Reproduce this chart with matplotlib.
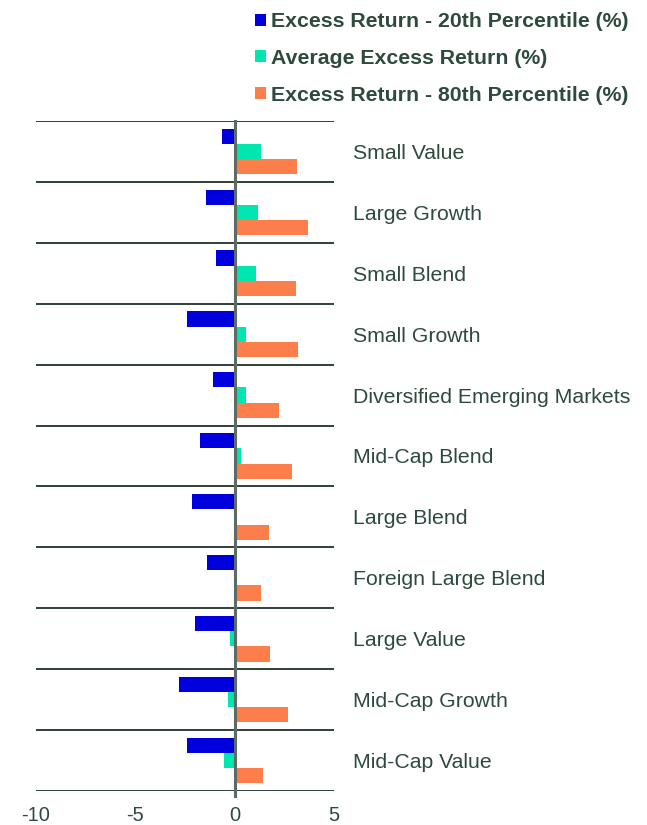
import matplotlib.pyplot as plt
import numpy as np

plt.rcParams['font.family'] = ['Liberation Sans', 'DejaVu Sans']

categories = ["Small Value", "Large Growth", "Small Blend", "Small Growth",
              "Diversified Emerging Markets", "Mid-Cap Blend", "Large Blend",
              "Foreign Large Blend", "Large Value", "Mid-Cap Growth", "Mid-Cap Value"]
pct20 = [-0.65, -1.43, -0.94, -2.38, -1.09, -1.76, -2.15, -1.38, -2.02, -2.79, -2.40]
avg = [1.35, 1.18, 1.09, 0.55, 0.55, 0.30, -0.05, -0.05, -0.22, -0.35, -0.55]
pct80 = [3.15, 3.71, 3.07, 3.21, 2.25, 2.87, 1.71, 1.33, 1.76, 2.69, 1.43]
series_names = ["Excess Return - 20th Percentile (%)",
                "Average Excess Return (%)",
                "Excess Return - 80th Percentile (%)"]
colors = ["#0000dd", "#00e6b0", "#fc7e4a"]
xticks = [-10, -5, 0, 5]

txt = "#2e4a3d"
W, H = 647, 825
fig = plt.figure(figsize=(W / 100, H / 100), dpi=100)
ax = fig.add_axes([36 / W, 1 - 791 / H, 298 / W, 670 / H])

y = np.arange(len(categories))
h = 0.25
bars = []
for k, vals in enumerate([pct20, avg, pct80]):
    b = ax.barh(y + (k - 1) * h, vals, height=h, color=colors[k],
                label=series_names[k], zorder=2)
    bars.append(b)

ax.set_xlim(-10, 5)
ax.set_ylim(len(categories) - 0.5, -0.5)
ax.set_xticks(xticks)
ax.set_xticklabels([str(t) for t in xticks])
ax.set_yticks(y)
ax.set_yticklabels(categories)
ax.yaxis.tick_right()
ax.tick_params(axis='y', length=0, pad=14, labelsize=15.3, labelcolor=txt)
ax.tick_params(axis='x', length=0, pad=11, labelsize=14.5, labelcolor=txt)

# group separators and zero line
for b in np.arange(-0.5, len(categories), 1.0):
    ax.axhline(b, color="#2f3f37", lw=1.4, zorder=1)
ax.axvline(0, color="#5c6b63", lw=2.2, zorder=3, ymin=-0.008, ymax=1.0, clip_on=False)

for s in ax.spines.values():
    s.set_visible(False)

leg = fig.legend(handles=bars, loc="upper left",
                 bbox_to_anchor=(236 / W, 1 + 7 / H), frameon=False,
                 handlelength=0.5, handleheight=0.5, handletextpad=0.25,
                 labelspacing=0.84,
                 prop={'weight': 'bold', 'size': 15.3})
for t in leg.get_texts():
    t.set_color(txt)

fig.savefig("out.png", dpi=100)
